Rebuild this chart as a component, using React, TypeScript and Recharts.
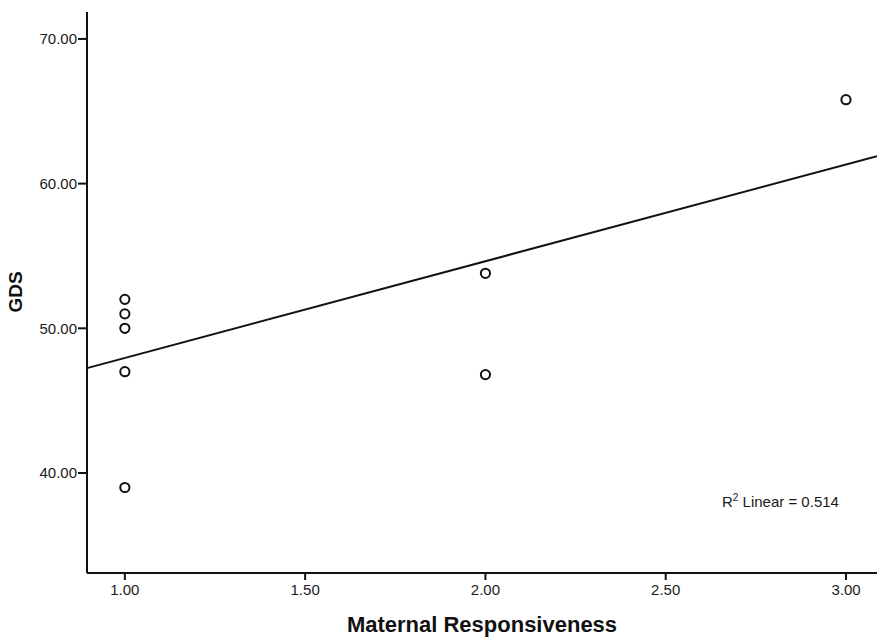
import { ScatterChart, Scatter, XAxis, YAxis, ReferenceLine } from 'recharts';

// Maternal Responsiveness (x) vs GDS (y)
const responsiveness = [1, 1, 1, 1, 1, 2, 2, 3];
const gds = [52, 51, 50, 47, 39, 53.8, 46.8, 65.8];

// fitted line, read at the two plot edges
const fitX = [0.895, 3.086];
const fitY = [47.25, 61.9];

const xTicks = [1, 1.5, 2, 2.5, 3];
const yTicks = [40, 50, 60, 70];

const points = responsiveness.map((x, i) => ({ x, y: gds[i] }));

const font = '"Liberation Sans", Arial, sans-serif';

const Ring = (props: any) => {
  const { cx, cy } = props;
  return <circle cx={cx} cy={cy} r={4.6} fill="#fff" stroke="#111" strokeWidth={2} />;
};

export default function App() {
  return (
    <div style={{ position: 'absolute', left: 0, top: 0, width: 877, height: 640, background: '#fff', fontFamily: font }}>
      <ScatterChart width={877} height={640} margin={{ top: 12, right: 0, bottom: 0, left: 0 }}>
        <XAxis
          type="number"
          dataKey="x"
          domain={[0.895, 3.086]}
          ticks={xTicks}
          allowDataOverflow
          tickFormatter={(v) => Number(v).toFixed(2)}
          height={67}
          tickSize={7}
          tickMargin={4}
          axisLine={{ stroke: '#111', strokeWidth: 2 }}
          tickLine={{ stroke: '#111', strokeWidth: 2 }}
          tick={{ fontSize: 15, fill: '#1a1a1a', fontFamily: font }}
          label={{ value: 'Maternal Responsiveness', position: 'insideBottom', offset: 8, fontSize: 22, fontWeight: 700, fill: '#111', fontFamily: font }}
        />
        <YAxis
          type="number"
          dataKey="y"
          domain={[33.09, 71.86]}
          ticks={yTicks}
          allowDataOverflow
          tickFormatter={(v) => Number(v).toFixed(2)}
          width={87}
          tickSize={9}
          tickMargin={1}
          axisLine={{ stroke: '#111', strokeWidth: 2 }}
          tickLine={{ stroke: '#111', strokeWidth: 2 }}
          tick={{ fontSize: 15, fill: '#1a1a1a', fontFamily: font }}
          label={{ value: 'GDS', angle: -90, position: 'insideLeft', offset: 15, dy: 20, fontSize: 19, fontWeight: 700, fill: '#111', fontFamily: font }}
        />
        <ReferenceLine
          segment={[
            { x: fitX[0], y: fitY[0] },
            { x: fitX[1], y: fitY[1] },
          ]}
          stroke="#111"
          strokeWidth={2}
          ifOverflow="visible"
        />
        <Scatter data={points} shape={<Ring />} isAnimationActive={false} />
      </ScatterChart>
      <div style={{ position: 'absolute', left: 722, top: 492, fontSize: 15, color: '#1a1a1a', whiteSpace: 'nowrap' }}>
        R<sup style={{ fontSize: 10 }}>2</sup> Linear = 0.514
      </div>
    </div>
  );
}
